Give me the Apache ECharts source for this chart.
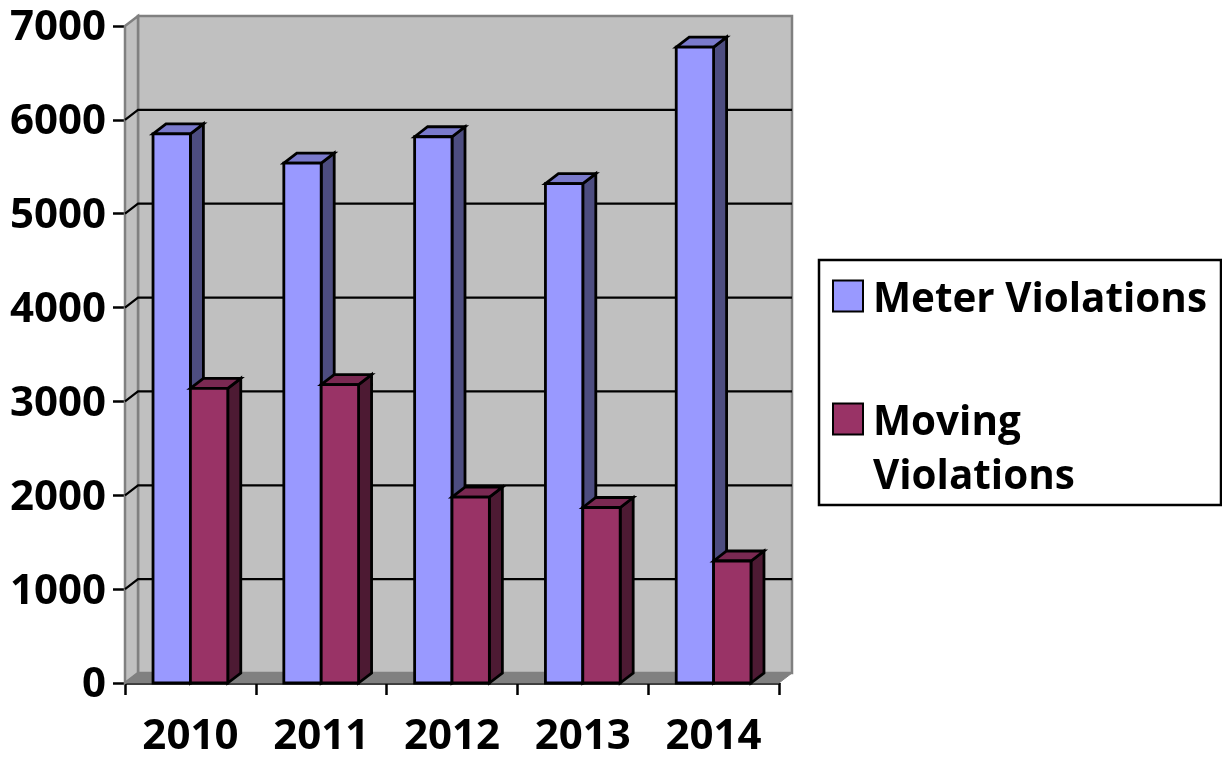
<!DOCTYPE html>
<html>
<head>
<meta charset="utf-8">
<style>html,body{margin:0;padding:0;background:#fff}#c{width:1222px;height:758px}</style>
<script src="https://cdn.jsdelivr.net/npm/echarts@6/dist/echarts.min.js"></script>
</head>
<body>
<div id="c"></div>
<script>
var categories = ['2010', '2011', '2012', '2013', '2014'];
var meterViolations = [5850, 5540, 5820, 5320, 6775];
var movingViolations = [3140, 3180, 1980, 1870, 1300];
var yTicks = [0, 1000, 2000, 3000, 4000, 5000, 6000, 7000];

var DX = 13, DY = -10;
var FONT = 'Open Sans';
var chart = echarts.init(document.getElementById('c'), null, {renderer: 'canvas'});

function wallItem(params, api) {
  var v = api.value(0);
  var p0 = api.coord([0, v]);
  var band = api.size([1, 0])[0];
  var xL = p0[0] - band / 2, xR = xL + band * categories.length;
  var y = p0[1];
  var children = [];
  if (params.dataIndex === 0) {
    var yTop = api.coord([0, 7000])[1];
    var gray = '#808080';
    children.push({type: 'polygon', shape: {points: [[xL + DX, yTop + DY], [xR + DX, yTop + DY], [xR + DX, y + DY], [xL + DX, y + DY]]},
      style: {fill: '#c0c0c0', stroke: gray, lineWidth: 2.5}});
    children.push({type: 'polygon', shape: {points: [[xL, yTop], [xL + DX, yTop + DY], [xL + DX, y + DY], [xL, y]]},
      style: {fill: '#c0c0c0', stroke: gray, lineWidth: 2.5}});
    children.push({type: 'polygon', shape: {points: [[xL, y], [xL + DX, y + DY], [xR + DX, y + DY], [xR, y]]},
      style: {fill: '#808080', stroke: gray, lineWidth: 1}});
  } else if (v < 7000) {
    children.push({type: 'polyline', shape: {points: [[xL, y], [xL + DX, y + DY], [xR + DX, y + DY]]},
      style: {fill: null, stroke: '#000', lineWidth: 2.2}});
  }
  return {type: 'group', children: children};
}

function barItem(slot, front, top, side) {
  return function (params, api) {
    var idx = api.value(0), val = api.value(1);
    var band = api.size([1, 0])[0];
    var w = band / 3.5;
    var tp = api.coord([idx, val]), bt = api.coord([idx, 0]);
    var x0 = tp[0] - band / 2 + w * (0.75 + slot), x1 = x0 + w;
    var yT = tp[1], yB = bt[1];
    var st = {stroke: '#000', lineWidth: 2.8, lineJoin: 'miter'};
    function s(fill) { return Object.assign({fill: fill}, st); }
    return {type: 'group', children: [
      {type: 'polygon', shape: {points: [[x1, yT], [x1 + DX, yT + DY], [x1 + DX, yB + DY], [x1, yB]]}, style: s(side)},
      {type: 'polygon', shape: {points: [[x0, yT], [x0 + DX, yT + DY], [x1 + DX, yT + DY], [x1, yT]]}, style: s(top)},
      {type: 'rect', shape: {x: x0, y: yT, width: x1 - x0, height: yB - yT}, style: s(front)}
    ]};
  };
}

chart.setOption({
  animation: false,
  backgroundColor: '#fff',
  grid: {left: 125, top: 26, width: 654, height: 657, containLabel: false, outerBoundsMode: 'none'},
  xAxis: {
    type: 'category', data: categories, boundaryGap: true,
    axisLine: {show: true, lineStyle: {color: '#000', width: 2.5}},
    axisTick: {show: true, length: 12, alignWithLabel: false, lineStyle: {color: '#000', width: 2.5}},
    axisLabel: {color: '#000', fontFamily: FONT, fontWeight: 'bold', fontSize: 42, margin: 33},
    splitLine: {show: false}
  },
  yAxis: {
    type: 'value', min: 0, max: 7000, interval: 1000,
    axisLine: {show: true, lineStyle: {color: '#000', width: 2.5}},
    axisTick: {show: true, length: 12, lineStyle: {color: '#000', width: 2.5}},
    axisLabel: {
      color: '#000', fontFamily: FONT, fontWeight: 'bold', fontSize: 42, margin: 19,
      formatter: function (v) { return '{t|' + v + '}'; },
      rich: {t: {color: '#000', fontFamily: FONT, fontWeight: 'bold', fontSize: 42, padding: [5, 0, 0, 0]}}
    },
    splitLine: {show: false}
  },
  legend: {
    orient: 'vertical', left: 832, top: 269, padding: 0, itemGap: 15,
    itemWidth: 30, itemHeight: 31, icon: 'rect', selectedMode: false,
    textStyle: {
      color: '#000', fontFamily: FONT, fontWeight: 'bold', fontSize: 40.4, lineHeight: 54,
      rich: {t: {color: '#000', fontFamily: FONT, fontWeight: 'bold', fontSize: 40.4, lineHeight: 54, padding: [8, 0, 0, 5]}}
    },
    data: [
      {name: 'Meter Violations', itemStyle: {color: '#9999ff', borderColor: '#000', borderWidth: 2}},
      {name: 'Moving Violations', itemStyle: {color: '#993366', borderColor: '#000', borderWidth: 2}}
    ],
    formatter: function (n) {
      return n === 'Moving Violations' ? '{t| }\n{t|Moving}\n{t|Violations}' : '{t|' + n + '}';
    }
  },
  graphic: [{type: 'rect', z: -1, shape: {x: 819, y: 260, width: 402, height: 245},
    style: {fill: '#fff', stroke: '#000', lineWidth: 2.5}}],
  series: [
    {type: 'custom', name: 'Wall', silent: true, z: 1, renderItem: wallItem, data: yTicks.map(function (t) { return [t]; }), encode: {y: 0}},
    {type: 'custom', name: 'Meter Violations', z: 2, renderItem: barItem(0, '#9999ff', '#7a7acc', '#4d4d80'),
      itemStyle: {color: '#9999ff'}, data: meterViolations.map(function (v, i) { return [i, v]; }), encode: {x: 0, y: 1}},
    {type: 'custom', name: 'Moving Violations', z: 3, renderItem: barItem(1, '#993366', '#7a2952', '#4d1a33'),
      itemStyle: {color: '#993366'}, data: movingViolations.map(function (v, i) { return [i, v]; }), encode: {x: 0, y: 1}}
  ]
});
</script>
</body>
</html>
